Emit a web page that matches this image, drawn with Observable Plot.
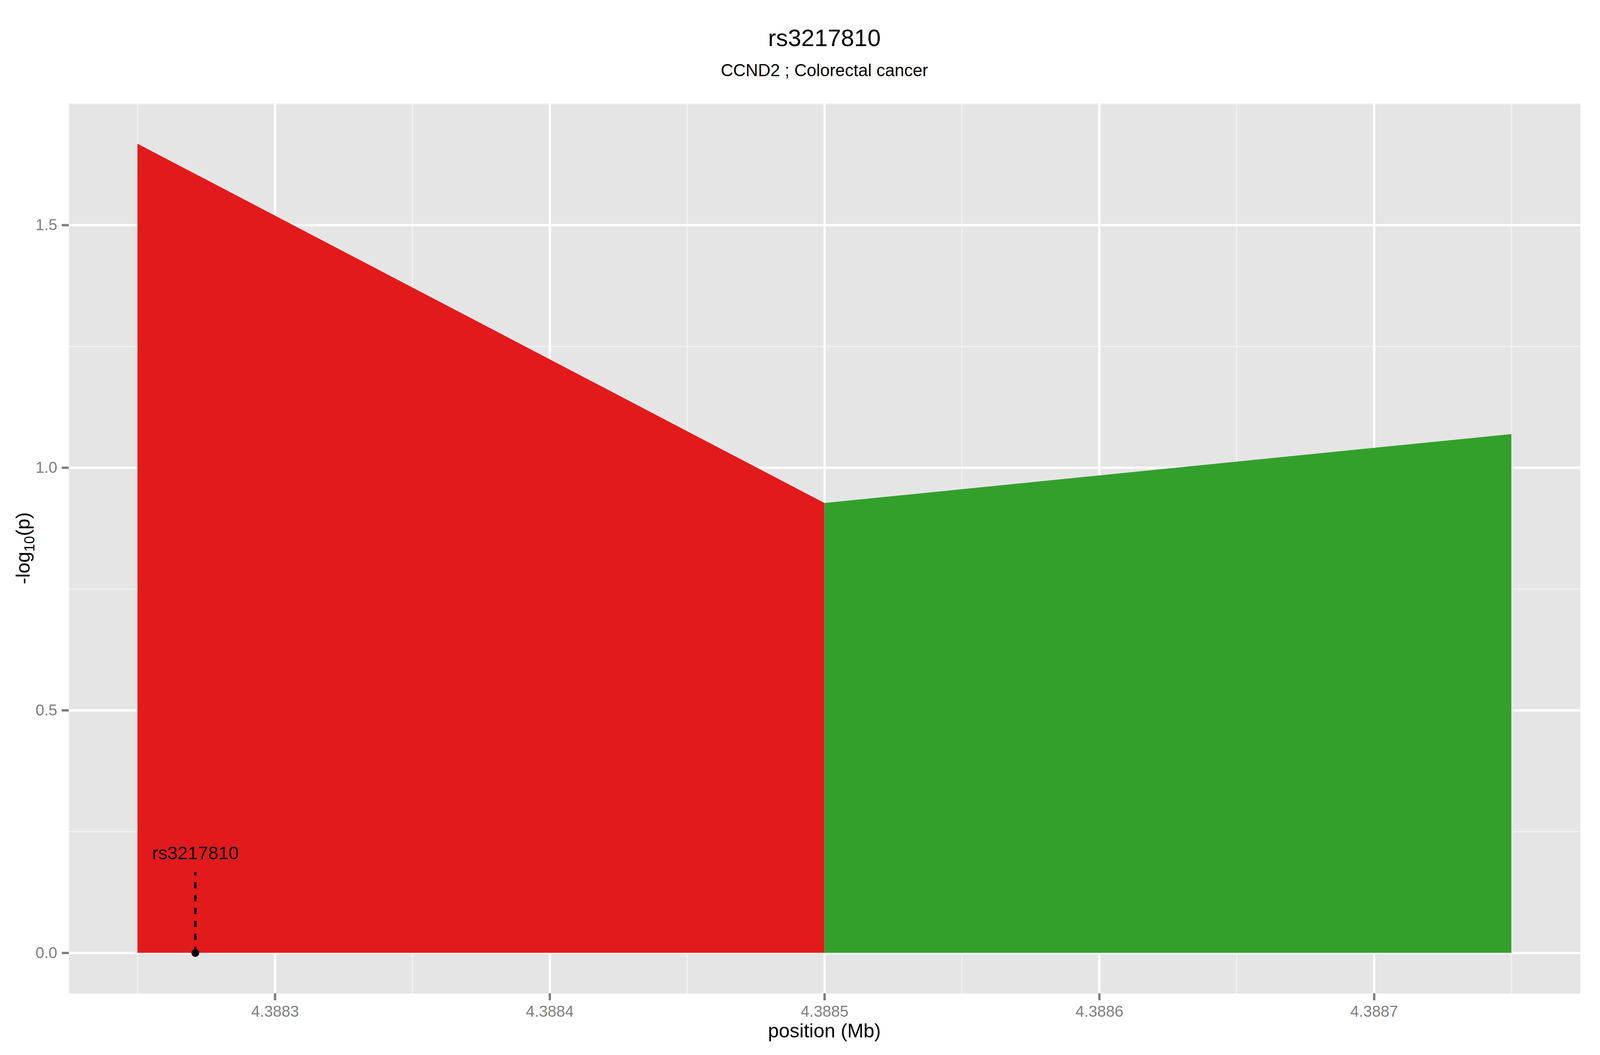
<!DOCTYPE html>
<html>
<head>
<meta charset="utf-8">
<script src="https://cdn.jsdelivr.net/npm/d3@7"></script>
<script src="https://cdn.jsdelivr.net/npm/@observablehq/plot@0.6"></script>
<style>
  html, body { margin: 0; padding: 0; background: #ffffff; overflow: hidden; }
  #wrap { font-family: "Liberation Sans", Arial, sans-serif; }
  #header { position: relative; height: 230px; }
  #title { position: absolute; top: 67px; text-align: center; font-size: 61px; line-height: 61px; color: #000; }
  #subtitle { position: absolute; top: 158px; text-align: center; font-size: 44px; line-height: 44px; color: #000; }
  #chart svg { display: block; }
</style>
</head>
<body>
<div id="wrap">
  <div id="header">
    <div id="title">rs3217810</div>
    <div id="subtitle">CCND2 ; Colorectal cancer</div>
  </div>
  <div id="chart"></div>
</div>
<script>
// ---- data ----
const positions = [4.38825, 4.3885, 4.3885, 4.38875];      // Mb
const logP      = [1.6675, 0.927, 0.927, 1.069];          // -log10(p)
const regions   = ["upstream", "upstream", "downstream", "downstream"];
const regionColors = {upstream: "#E31A1C", downstream: "#33A02C"};

const snpName = ["rs3217810"];
const snpPos  = [4.388271];
const snpY    = [0];
const snpLabelY = [0.205];
const snpLineTop = [0.166];

const xTicks = [4.3883, 4.3884, 4.3885, 4.3886, 4.3887];
const yTicks = [0.0, 0.5, 1.0, 1.5];
const xMinor = [4.38825, 4.38835, 4.38845, 4.38855, 4.38865, 4.38875];
const yMinor = [0.25, 0.75, 1.25, 1.75];

const xDomain = [4.388225, 4.388775];
const yDomain = [-0.0834, 1.751];

// ---- build tables ----
const areaData = positions.map((p, i) => ({pos: p, v: logP[i], g: regions[i]}));
const snps = snpName.map((n, i) => ({name: n, pos: snpPos[i], y: snpY[i], ly: snpLabelY[i], top: snpLineTop[i]}));

const W = Math.min(4800, window.innerWidth || 4800);
const kx = W / 4800;
const H = 2470;
const mL = Math.max(176, Math.round(203 * kx)), mR = Math.round(60 * kx), mT = 34, mB = 158;
const panelMid = (mL + (W - mR)) / 2;

for (const id of ["title", "subtitle"]) {
  const el = document.getElementById(id);
  el.style.left = mL + "px";
  el.style.width = (W - mR - mL) + "px";
}
document.getElementById("header").style.width = W + "px";

const chart = Plot.plot({
  width: W,
  height: H,
  marginTop: mT,
  marginBottom: mB,
  marginLeft: mL,
  marginRight: mR,
  style: {fontFamily: "Liberation Sans, Arial, sans-serif", background: "#ffffff", overflow: "visible"},
  x: {domain: xDomain},
  y: {domain: yDomain},
  color: {domain: Object.keys(regionColors), range: Object.values(regionColors)},
  marks: [
    Plot.frame({fill: "#E5E5E5", stroke: null}),
    Plot.ruleY(yMinor, {stroke: "#F2F2F2", strokeWidth: 3}),
    Plot.ruleX(xMinor, {stroke: "#F2F2F2", strokeWidth: 3}),
    Plot.ruleY(yTicks, {stroke: "#FFFFFF", strokeWidth: 6}),
    Plot.ruleX(xTicks, {stroke: "#FFFFFF", strokeWidth: 6}),
    Plot.area(areaData, {x1: "pos", y1: 0, y2: "v", z: "g", fill: "g", curve: "linear"}),
    Plot.ruleX(snps, {x: "pos", y1: "y", y2: "top", stroke: "#000000", strokeWidth: 6, strokeDasharray: "16,17"}),
    Plot.dot(snps, {x: "pos", y: "y", r: 10, fill: "#000000", stroke: null}),
    Plot.text(snps, {x: "pos", y: "ly", text: "name", fontSize: 47, fill: "#000000", textAnchor: "middle", lineAnchor: "middle"}),
    Plot.axisX(xTicks, {tickFormat: d3.format(".4f"), tickSize: 18, tickPadding: 13, fontSize: 40, color: "#7F7F7F", strokeWidth: 6, label: null}),
    Plot.axisY(yTicks, {tickFormat: d3.format(".1f"), tickSize: 18, tickPadding: 12, fontSize: 40, color: "#7F7F7F", strokeWidth: 6, label: null})
  ]
});

// axis titles as real text
const svg = d3.select(chart);
svg.append("text")
  .attr("x", panelMid)
  .attr("y", 2425)
  .attr("text-anchor", "middle")
  .attr("font-size", 50)
  .attr("fill", "#000")
  .text("position (Mb)");

const yl = svg.append("text")
  .attr("transform", `translate(${mL - 100},${(mT + (H - mB)) / 2}) rotate(-90)`)
  .attr("text-anchor", "middle")
  .attr("font-size", 50)
  .attr("fill", "#000");
yl.append("tspan").text("-log");
yl.append("tspan").attr("font-size", 36).attr("dy", 12).text("10");
yl.append("tspan").attr("dy", -12).text("(p)");

document.getElementById("chart").appendChild(chart);
</script>
</body>
</html>
